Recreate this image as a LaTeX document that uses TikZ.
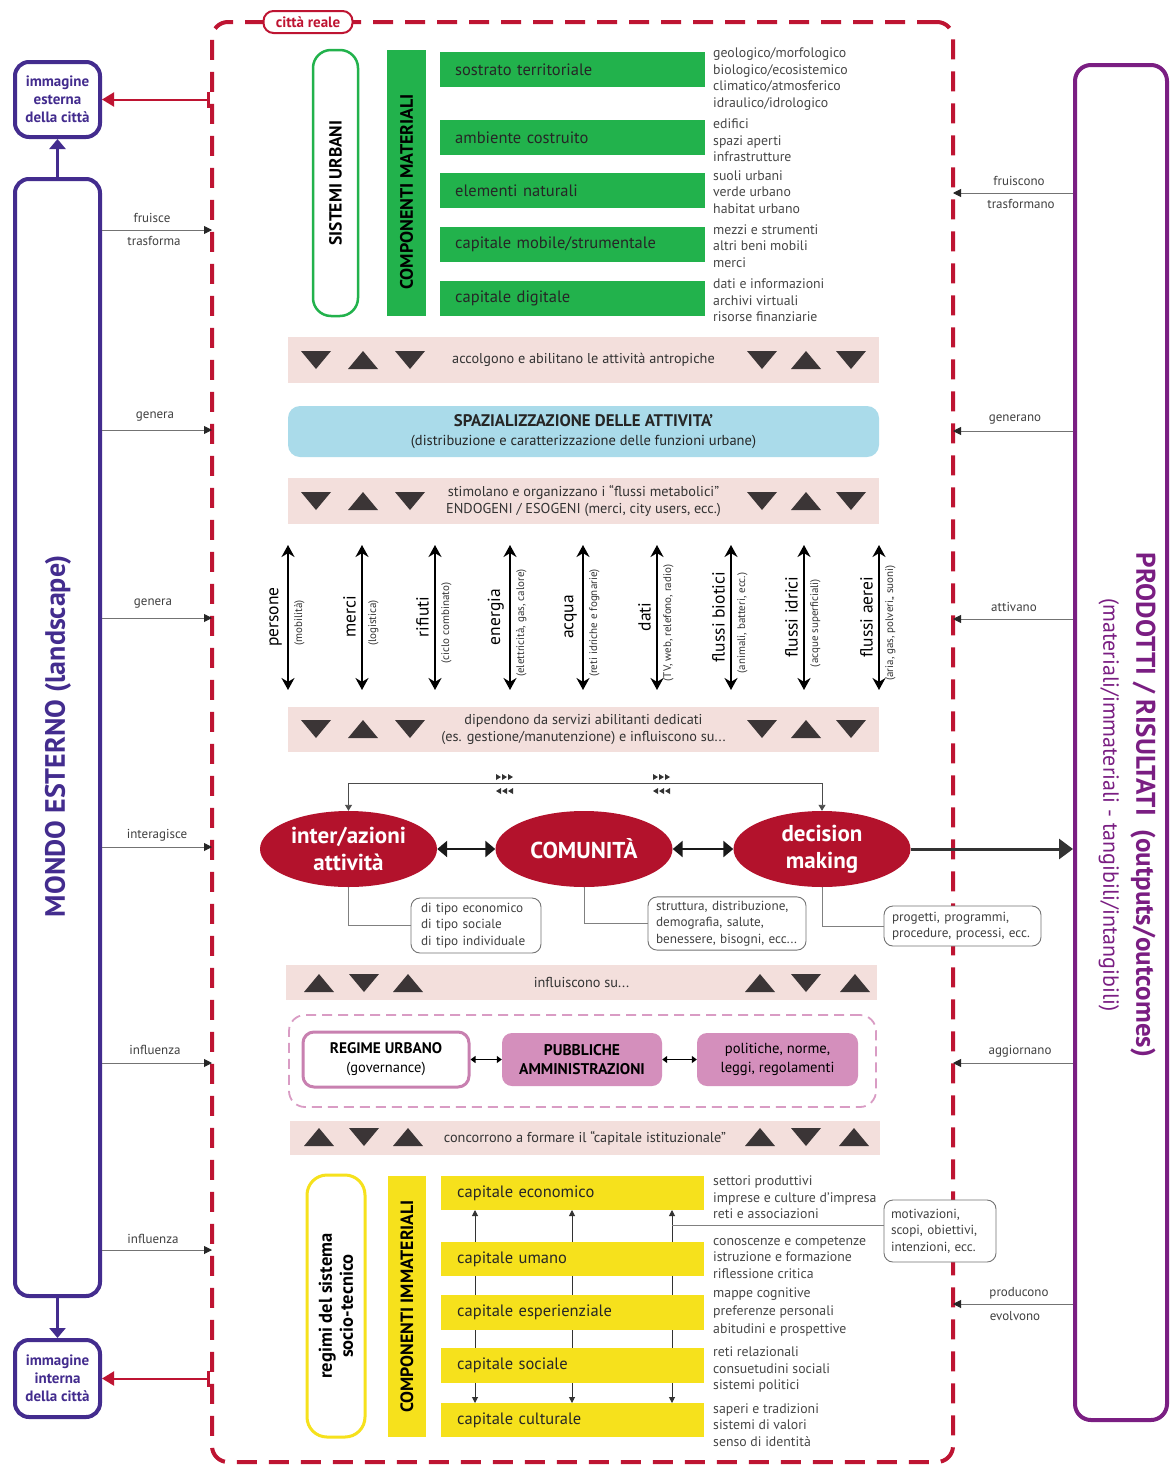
\documentclass[tikz,border=0pt]{standalone}
\usepackage{fontspec}
\setmainfont{PT Sans}
\usetikzlibrary{shapes.geometric,arrows.meta,calc}
\definecolor{cred}{HTML}{BE1432}
\definecolor{ered}{HTML}{B3122C}
\definecolor{lpur}{HTML}{432C8E}
\definecolor{rpur}{HTML}{7A1E82}
\definecolor{cgreen}{HTML}{22B24C}
\definecolor{cyel}{HTML}{F6E11C}
\definecolor{bandc}{HTML}{F3DFDC}
\definecolor{cblue}{HTML}{AADBEA}
\definecolor{pdash}{HTML}{D99CC4}
\definecolor{pfill}{HTML}{D48FBC}
\definecolor{pbord}{HTML}{C880B0}
\definecolor{tricol}{HTML}{3B3536}
\newcommand\myfs[2]{\fontsize{#1}{#2}\selectfont}
\newcommand\trDown[2]{\fill[tricol] ({#1-15},{#2-9}) -- ({#1+15},{#2-9}) -- (#1,{#2+9}) -- cycle;}
\newcommand\trUp[2]{\fill[tricol] ({#1-15},{#2+9}) -- ({#1+15},{#2+9}) -- (#1,{#2-9}) -- cycle;}
\newcommand\mkR[2]{\foreach \k in {-7,-1,5} {\fill[black!80] ({#1+\k-2},{#2-3}) -- ({#1+\k+3},{#2}) -- ({#1+\k-2},{#2+3}) -- cycle;}}
\newcommand\mkL[2]{\foreach \k in {-7,-1,5} {\fill[black!80] ({#1+\k+3},{#2-3}) -- ({#1+\k-2},{#2}) -- ({#1+\k+3},{#2+3}) -- cycle;}}
\newcommand\flowitem[5]{%
  \coordinate (#1t) at (#2,545); \coordinate (#1b) at (#2,690);
  \draw[flowarr] (#1t) -- (#1b);
  \node[fmain] (#1m) at ({#2-5},617) {#3};
  \node[fsub] (#1s) at ({#2+5},623) {#4};}
\begin{document}
\begin{tikzpicture}[x=1pt,y=-1pt,
  lab/.style={font=\myfs{13}{15}, text=black!75, inner sep=1pt},
  conn/.style={draw=black!55, line width=0.9pt, -{Triangle[length=8pt,width=8pt,color=black!85]}},
  pbox/.style={draw=lpur, line width=4pt, rounded corners=14pt, align=center, font=\bfseries\myfs{15}{18}, text=lpur, inner sep=0pt, fill=white},
  gbox/.style={fill=cgreen, anchor=west, minimum height=35pt, text width=235pt, inner xsep=15pt, inner ysep=0pt, align=left, font=\myfs{16.5}{19}, text=black!85},
  ybox/.style={fill=cyel, anchor=west, text width=231pt, inner xsep=16pt, inner ysep=0pt, align=left, font=\myfs{16.5}{19}, text=black!85},
  side/.style={anchor=west, align=left, font=\myfs{13.8}{16.5}, text=black!72, inner sep=0pt},
  bandn/.style={fill=bandc, minimum width=591pt, inner sep=0pt, font=\myfs{14.3}{17.5}, text=black!80, align=center},
  ell/.style={ellipse, fill=ered, text=white, font=\bfseries\myfs{23}{27}, minimum width=177pt, minimum height=76pt, inner sep=0pt, align=center},
  note/.style={draw=black!55, line width=0.9pt, rounded corners=9pt, fill=white, align=left, font=\myfs{13.2}{16.5}, text=black!75, inner xsep=10pt, inner ysep=4pt},
  gline/.style={draw=black!50, line width=0.9pt},
  flowarr/.style={line width=2pt, {Stealth[length=12pt,width=13pt]}-{Stealth[length=12pt,width=13pt]}},
  fmain/.style={rotate=90, anchor=south, font=\myfs{17.5}{19}, inner sep=1pt},
  fsub/.style={rotate=90, anchor=north, font=\myfs{11}{12}, text=black!80, inner sep=1pt},
  smallarr/.style={line width=1.2pt, {Triangle[length=5pt,width=7pt]}-{Triangle[length=5pt,width=7pt]}},
  varr/.style={line width=1pt, black!80, {Triangle[length=6pt,width=6pt]}-{Triangle[length=6pt,width=6pt]}}
]
\useasboundingbox (0,0) rectangle (1171,1467);
\fill[white] (0,0) rectangle (1171,1467);

% ---------- outer frame ----------
\node[draw=cred, line width=4pt, dash pattern=on 20pt off 12pt, rounded corners=16pt, minimum width=741pt, minimum height=1440pt, inner sep=0pt] (city) at (582.5,742) {};
\node[draw=cred, fill=white, line width=2pt, rounded corners=10pt, minimum width=89pt, minimum height=22pt, inner sep=0pt, text=cred, font=\bfseries\myfs{15}{17}] (cr) at (308,22) {città reale};

% ---------- left column ----------
\node[pbox, minimum width=85pt, minimum height=75pt] (imge) at (57.5,99.5) {immagine\\esterna\\della città};
\node[pbox, minimum width=85pt, minimum height=1117pt] (mondo) at (57.5,737.5) {};
\node[rotate=90, font=\bfseries\myfs{28}{32}, text=lpur] (mondot) at (58,736) {MONDO ESTERNO (landscape)};
\node[pbox, minimum width=85pt, minimum height=77pt] (imgi) at (57.5,1378.5) {immagine\\interna\\della città};
\draw[line width=3pt, lpur, -{Triangle[length=10pt,width=16pt]}] (mondo.north) -- (imge.south);
\draw[line width=3pt, lpur, -{Triangle[length=10pt,width=16pt]}] (mondo.south) -- (imgi.north);
\draw[line width=2pt, cred, {Bar[width=16pt,line width=3pt]}-{Triangle[length=12pt,width=14pt]}] (imge.east -| city.west) -- (imge.east);
\draw[line width=2pt, cred, {Bar[width=16pt,line width=3pt]}-{Triangle[length=12pt,width=14pt]}] (imgi.east -| city.west) -- (imgi.east);

\coordinate (L1) at (212,230); \coordinate (L2) at (212,430); \coordinate (L3) at (212,618);
\coordinate (L4) at (212,847); \coordinate (L5) at (212,1063); \coordinate (L6) at (212,1250);
\foreach \c in {L1,L2,L3,L4,L5,L6} {\draw[conn] (mondo.east |- \c) -- (\c);}
\node[lab] (l1a) at (152,218) {fruisce};
\node[lab] (l1b) at (154,241) {trasforma};
\node[lab] (l2a) at (155,417) {genera};
\node[lab] (l3a) at (153,604) {genera};
\node[lab] (l4a) at (157,835) {interagisce};
\node[lab] (l5a) at (155,1050) {influenza};
\node[lab] (l6a) at (153,1239) {influenza};

% ---------- right column ----------
\node[draw=rpur, line width=4pt, rounded corners=16pt, minimum width=92pt, minimum height=1355pt, inner sep=0pt] (prod) at (1121,742.5) {};
\node[rotate=-90, align=center, text=rpur, font=\myfs{22}{33}] (prodt) at (1127,805) {{\bfseries\myfs{27}{33}PRODOTTI / RISULTATI\ \ (outputs/outcomes)}\\(materiali/immateriali - tangibili/intangibili)};
\coordinate (R1) at (953,193); \coordinate (R2) at (953,431); \coordinate (R3) at (953,619);
\coordinate (R4) at (953,1063); \coordinate (R5) at (953,1304);
\foreach \c in {R1,R2,R3,R4,R5} {\draw[conn] (prod.west |- \c) -- (\c);}
\node[lab] (r1a) at (1019,181) {fruiscono};
\node[lab] (r1b) at (1021,204) {trasformano};
\node[lab] (r2a) at (1015,420) {generano};
\node[lab] (r3a) at (1014,607) {attivano};
\node[lab] (r4a) at (1020,1051) {aggiornano};
\node[lab] (r5a) at (1019,1293) {producono};
\node[lab] (r5b) at (1015,1316) {evolvono};

% ---------- material components ----------
\node[rotate=90, draw=cgreen, line width=2.5pt, rounded corners=18pt, fill=white, minimum width=266pt, minimum height=45pt, inner sep=0pt, font=\bfseries\myfs{17.5}{19}] (su) at (335.5,183) {SISTEMI URBANI};
\node[fill=cgreen, minimum width=39pt, minimum height=266pt, inner sep=0pt] (cm) at (406.5,183) {};
\node[rotate=90, inner sep=0pt, font=\bfseries\myfs{18}{19}] (cmt) at (406.5,192) {COMPONENTI MATERIALI};
\node[gbox] (g1) at (440,69.5) {sostrato territoriale};
\node[gbox] (g2) at (440,137.5) {ambiente costruito};
\node[gbox] (g3) at (440,190.5) {elementi naturali};
\node[gbox] (g4) at (440,244) {capitale mobile/strumentale};
\node[gbox] (g5) at (440,298.5) {capitale digitale};
\node[side] (s1) at (713,79) {geologico/morfologico\\biologico/ecosistemico\\climatico/atmosferico\\idraulico/idrologico};
\node[side] (s2) at (713,140.5) {edifici\\spazi aperti\\infrastrutture};
\node[side] (s3) at (713,192) {suoli urbani\\verde urbano\\habitat urbano};
\node[side] (s4) at (713,246) {mezzi e strumenti\\altri beni mobili\\merci};
\node[side] (s5) at (713,300.5) {dati e informazioni\\archivi virtuali\\risorse finanziarie};

% ---------- bands ----------
\node[bandn, minimum height=46pt] (b1) at (583.5,360) {accolgono e abilitano le attività antropiche};
\trDown{316}{360} \trUp{363}{360} \trDown{410}{360} \trDown{762}{360} \trUp{806}{360} \trDown{851}{360}
\node[fill=cblue, rounded corners=12pt, minimum width=591pt, minimum height=51pt, align=center, inner sep=0pt, font=\myfs{14.5}{19}, text=black!85] (spa) at (583.5,431.5) {{\bfseries\myfs{16.8}{19}SPAZIALIZZAZIONE DELLE ATTIVITA’}\\(distribuzione e caratterizzazione delle funzioni urbane)};
\node[bandn, minimum height=46pt] (b2) at (583.5,501) {stimolano e organizzano i “flussi metabolici”\\ENDOGENI / ESOGENI (merci, city users, ecc.)};
\trDown{316}{501} \trUp{363}{501} \trDown{410}{501} \trDown{762}{501} \trUp{806}{501} \trDown{851}{501}

% ---------- flows ----------
\flowitem{f1}{288}{persone}{(mobilità)}{}
\flowitem{f2}{362}{merci}{(logistica)}{}
\flowitem{f3}{435}{rifiuti}{(ciclo combinato)}{}
\flowitem{f4}{510}{energia}{(elettricità, gas, calore)}{}
\flowitem{f5}{583}{acqua}{(reti idriche e fognarie)}{}
\flowitem{f6}{657}{dati}{(TV, web, relefono, radio)}{}
\flowitem{f7}{731}{flussi biotici}{(animali, batteri, ecc.)}{}
\flowitem{f8}{804}{flussi idrici}{(acque superficiali)}{}
\flowitem{f9}{879}{flussi aerei}{(aria, gas, polveri,, suoni)}{}

\node[bandn, minimum height=45pt] (b3) at (583.5,729.5) {dipendono da servizi abilitanti dedicati\\(es. gestione/manutenzione) e influiscono su...};
\trDown{316}{729} \trUp{363}{729} \trDown{410}{729} \trDown{762}{729} \trUp{806}{729} \trDown{851}{729}

% ---------- ellipses ----------
\node[note, minimum width=130pt, minimum height=55pt, text width=110pt] (n1) at (476,925.5) {di tipo economico\\di tipo sociale\\di tipo individuale};
\node[note, text width=142pt, inner xsep=8pt, minimum height=53pt] (n2) at (727,923.5) {struttura, distribuzione,\\demografia, salute,\\benessere, bisogni, ecc...};
\node[note, text width=141pt, inner xsep=8pt, minimum height=40pt] (n3) at (962.5,926) {progetti, programmi,\\procedure, processi, ecc.};
\node[ell] (e1) at (348.5,849) {inter/azioni\\attività};
\node[ell] (e2) at (584,849) {COMUNITÀ};
\node[ell] (e3) at (822,849) {decision\\making};
\draw[gline] (e1.south) |- (n1.west);
\draw[gline] (e2.south) |- (n2.west);
\draw[gline] (e3.south) |- (n3.west);
\draw[line width=2.5pt, black!90, {Triangle[length=10pt,width=16pt]}-{Triangle[length=10pt,width=16pt]}] (e1.east) -- (e2.west);
\draw[line width=2.5pt, black!90, {Triangle[length=10pt,width=16pt]}-{Triangle[length=10pt,width=16pt]}] (e2.east) -- (e3.west);
\draw[line width=3pt, black!80, -{Triangle[length=14pt,width=20pt]}] (e3.east) -- (e3.east -| prod.west);
\draw[black!70, line width=0.9pt, {Triangle[length=6pt,width=7pt]}-{Triangle[length=6pt,width=7pt]}] (e1.north) -- ++(0,-27) -| (e3.north);
\mkR{505}{777} \mkL{505}{791} \mkR{662}{777} \mkL{662}{791}

% ---------- governance ----------
\node[bandn, minimum height=35pt] (b4) at (581.5,982.5) {influiscono su...};
\trUp{319}{983} \trDown{364}{983} \trUp{408}{983} \trUp{760}{983} \trDown{806}{983} \trUp{855}{983}
\node[draw=pdash, line width=1.8pt, dash pattern=on 10pt off 6pt, rounded corners=16pt, minimum width=587pt, minimum height=92pt, inner sep=0pt] (reggrp) at (582.5,1061) {};
\node[draw=pbord, line width=3pt, fill=white, rounded corners=11pt, minimum width=166pt, minimum height=55pt, align=center, font=\myfs{14.5}{19}, inner sep=0pt] (ru) at (386,1059.5) {{\bfseries\myfs{15.3}{19}REGIME URBANO}\\(governance)};
\node[fill=pfill, rounded corners=10pt, minimum width=160pt, minimum height=53pt, align=center, font=\bfseries\myfs{15.5}{19}, inner sep=0pt] (pa) at (582,1059.5) {PUBBLICHE\\AMMINISTRAZIONI};
\node[fill=pfill, rounded corners=10pt, minimum width=161pt, minimum height=53pt, align=center, font=\myfs{14.6}{19}, inner sep=0pt] (pol) at (777.5,1059.5) {politiche, norme,\\leggi, regolamenti};
\draw[smallarr] (ru.east) -- (pa.west);
\draw[smallarr] (pa.east) -- (pol.west);
\node[bandn, minimum width=590pt, minimum height=34pt] (b5) at (585,1138) {concorrono a formare il “capitale istituzionale”};
\trUp{319}{1137} \trDown{364}{1137} \trUp{408}{1137} \trUp{760}{1137} \trDown{806}{1137} \trUp{854}{1137}

% ---------- immaterial components ----------
\node[rotate=90, draw=cyel, line width=3pt, rounded corners=20pt, fill=white, minimum width=262pt, minimum height=58pt, inner sep=0pt, align=center, font=\bfseries\myfs{18.5}{21}] (reg) at (336,1306) {regimi del sistema\\socio-tecnico};
\node[rotate=90, fill=cyel, minimum width=261pt, minimum height=38pt, inner sep=0pt, font=\bfseries\myfs{17.8}{19}] (ci) at (407,1306.5) {COMPONENTI IMMATERIALI};
\coordinate (v1t) at (475,1210); \coordinate (v1b) at (475,1403);
\coordinate (v2t) at (572,1210); \coordinate (v2b) at (572,1403);
\coordinate (v3t) at (672,1210); \coordinate (v3b) at (672,1403);
\draw[varr] (v1t) -- (v1b);
\draw[varr] (v2t) -- (v2b);
\draw[varr] (v3t) -- (v3b);
\node[ybox, minimum height=34pt] (y1) at (441,1193) {capitale economico};
\node[ybox, minimum height=34pt] (y2) at (441,1259) {capitale umano};
\node[ybox, minimum height=35pt] (y3) at (441,1312.5) {capitale esperienziale};
\node[ybox, minimum height=35pt] (y4) at (441,1365.5) {capitale sociale};
\node[ybox, minimum height=34pt] (y5) at (441,1420) {capitale culturale};
\node[note, text width=98pt, inner xsep=7pt, minimum height=62pt] (mot) at (940,1231) {motivazioni,\\scopi, obiettivi,\\intenzioni, ecc.};
\coordinate (mv) at (672,1225);
\draw[gline] (mv) -- (mv -| mot.west);
\node[side] (t1) at (713,1197.5) {settori produttivi\\imprese e culture d’impresa\\reti e associazioni};
\node[side] (t2) at (713,1257.5) {conoscenze e competenze\\istruzione e formazione\\riflessione critica};
\node[side, font=\myfs{13.8}{18}] (t3) at (713,1312) {mappe cognitive\\preferenze personali\\abitudini e prospettive};
\node[side] (t4) at (713,1369.5) {reti relazionali\\consuetudini sociali\\sistemi politici};
\node[side] (t5) at (713,1425) {saperi e tradizioni\\sistemi di valori\\senso di identità};
\end{tikzpicture}
\end{document}
